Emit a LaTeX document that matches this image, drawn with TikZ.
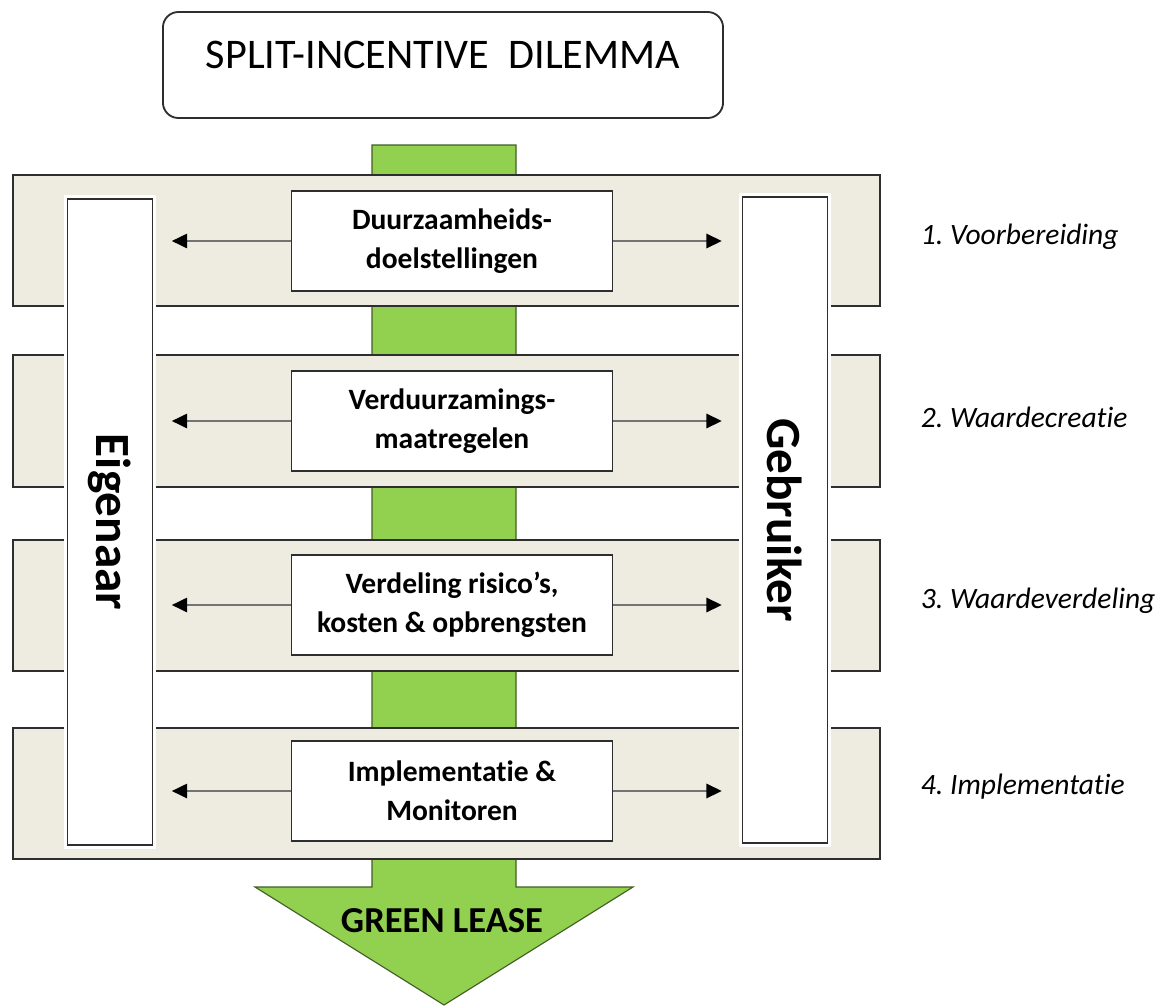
\documentclass[tikz,border=0pt]{standalone}
\usepackage{fontspec}
\setmainfont{Carlito}[Ligatures=NoCommon]
\usepackage{graphicx}
\usetikzlibrary{arrows.meta}
\definecolor{leafgreen}{HTML}{92D050}
\definecolor{paper}{HTML}{EEECE1}
\definecolor{edge}{HTML}{2E2E2E}
\frenchspacing

\begin{document}
\begin{tikzpicture}[x=0.025cm,y=-0.025cm,
  band/.style={draw=edge,fill=paper,line width=1.3pt},
  party/.style={draw=edge,fill=white,line width=1.3pt,minimum width=2.125cm,minimum height=16.15cm,inner sep=0pt,
    preaction={draw=white,line width=5pt},font=\fontsize{35}{38}\selectfont\bfseries},
  stepbox/.style={draw=edge,fill=white,line width=1.3pt,minimum width=8.025cm,minimum height=2.5cm,align=center,
    inner sep=2pt,font=\fontsize{21}{28}\selectfont\bfseries},
  flow/.style={draw=black!55,line width=2pt,-{Triangle[length=11pt,width=10pt,color=black]}},
  phase/.style={anchor=west,font=\fontsize{21}{24}\selectfont\itshape}]
\useasboundingbox (0,0) rectangle (1160,1007);

% title
\node[draw=edge,line width=1.3pt,rounded corners=11pt,minimum width=14cm,minimum height=2.65cm,
  text depth=14pt,font=\fontsize{30}{33}\selectfont] (title) at (443,65) {SPLIT-INCENTIVE\ \ DILEMMA};

% green arrow behind the bands
\draw[draw=leafgreen!45!black,fill=leafgreen,line width=0.8pt]
  (372,145) -- (516,145) -- (516,887) -- (633,887) -- (444,1005) -- (255,887) -- (372,887) -- cycle;

% phase bands
\foreach \t/\b in {175/306,355/487,540/671,728/859}
  \draw[band] (13,\t) rectangle (880,\b);

% owner and user
\node[party] (owner) at (110,522) {\rotatebox{-90}{Eigenaar}};
\node[party] (user) at (785,520) {\rotatebox{-90}{Gebruiker}};

% steps with arrows to both sides
\foreach \i/\y/\txt/\lab in {
    1/241/{Duurzaamheids-\\doelstellingen}/{1. Voorbereiding},
    2/421/{Verduurzamings-\\maatregelen}/{2. Waardecreatie},
    3/605/{Verdeling risico’s,\\kosten \& opbrengsten}/{3. Waardeverdeling},
    4/791/{Implementatie \&\\Monitoren}/{4. Implementatie}} {
  \node[stepbox] (s\i) at (452,\y) {\txt};
  \draw[flow,shorten >=13pt] (s\i.west) -- (s\i.west -| owner.east);
  \draw[flow,shorten >=14pt] (s\i.east) -- (s\i.east -| user.west);
  \node[phase] (p\i) at (916,\y-4) {\lab};
}

\node[font=\fontsize{26}{30}\selectfont\bfseries] (lease) at (442,921) {GREEN LEASE};
\end{tikzpicture}
\end{document}
